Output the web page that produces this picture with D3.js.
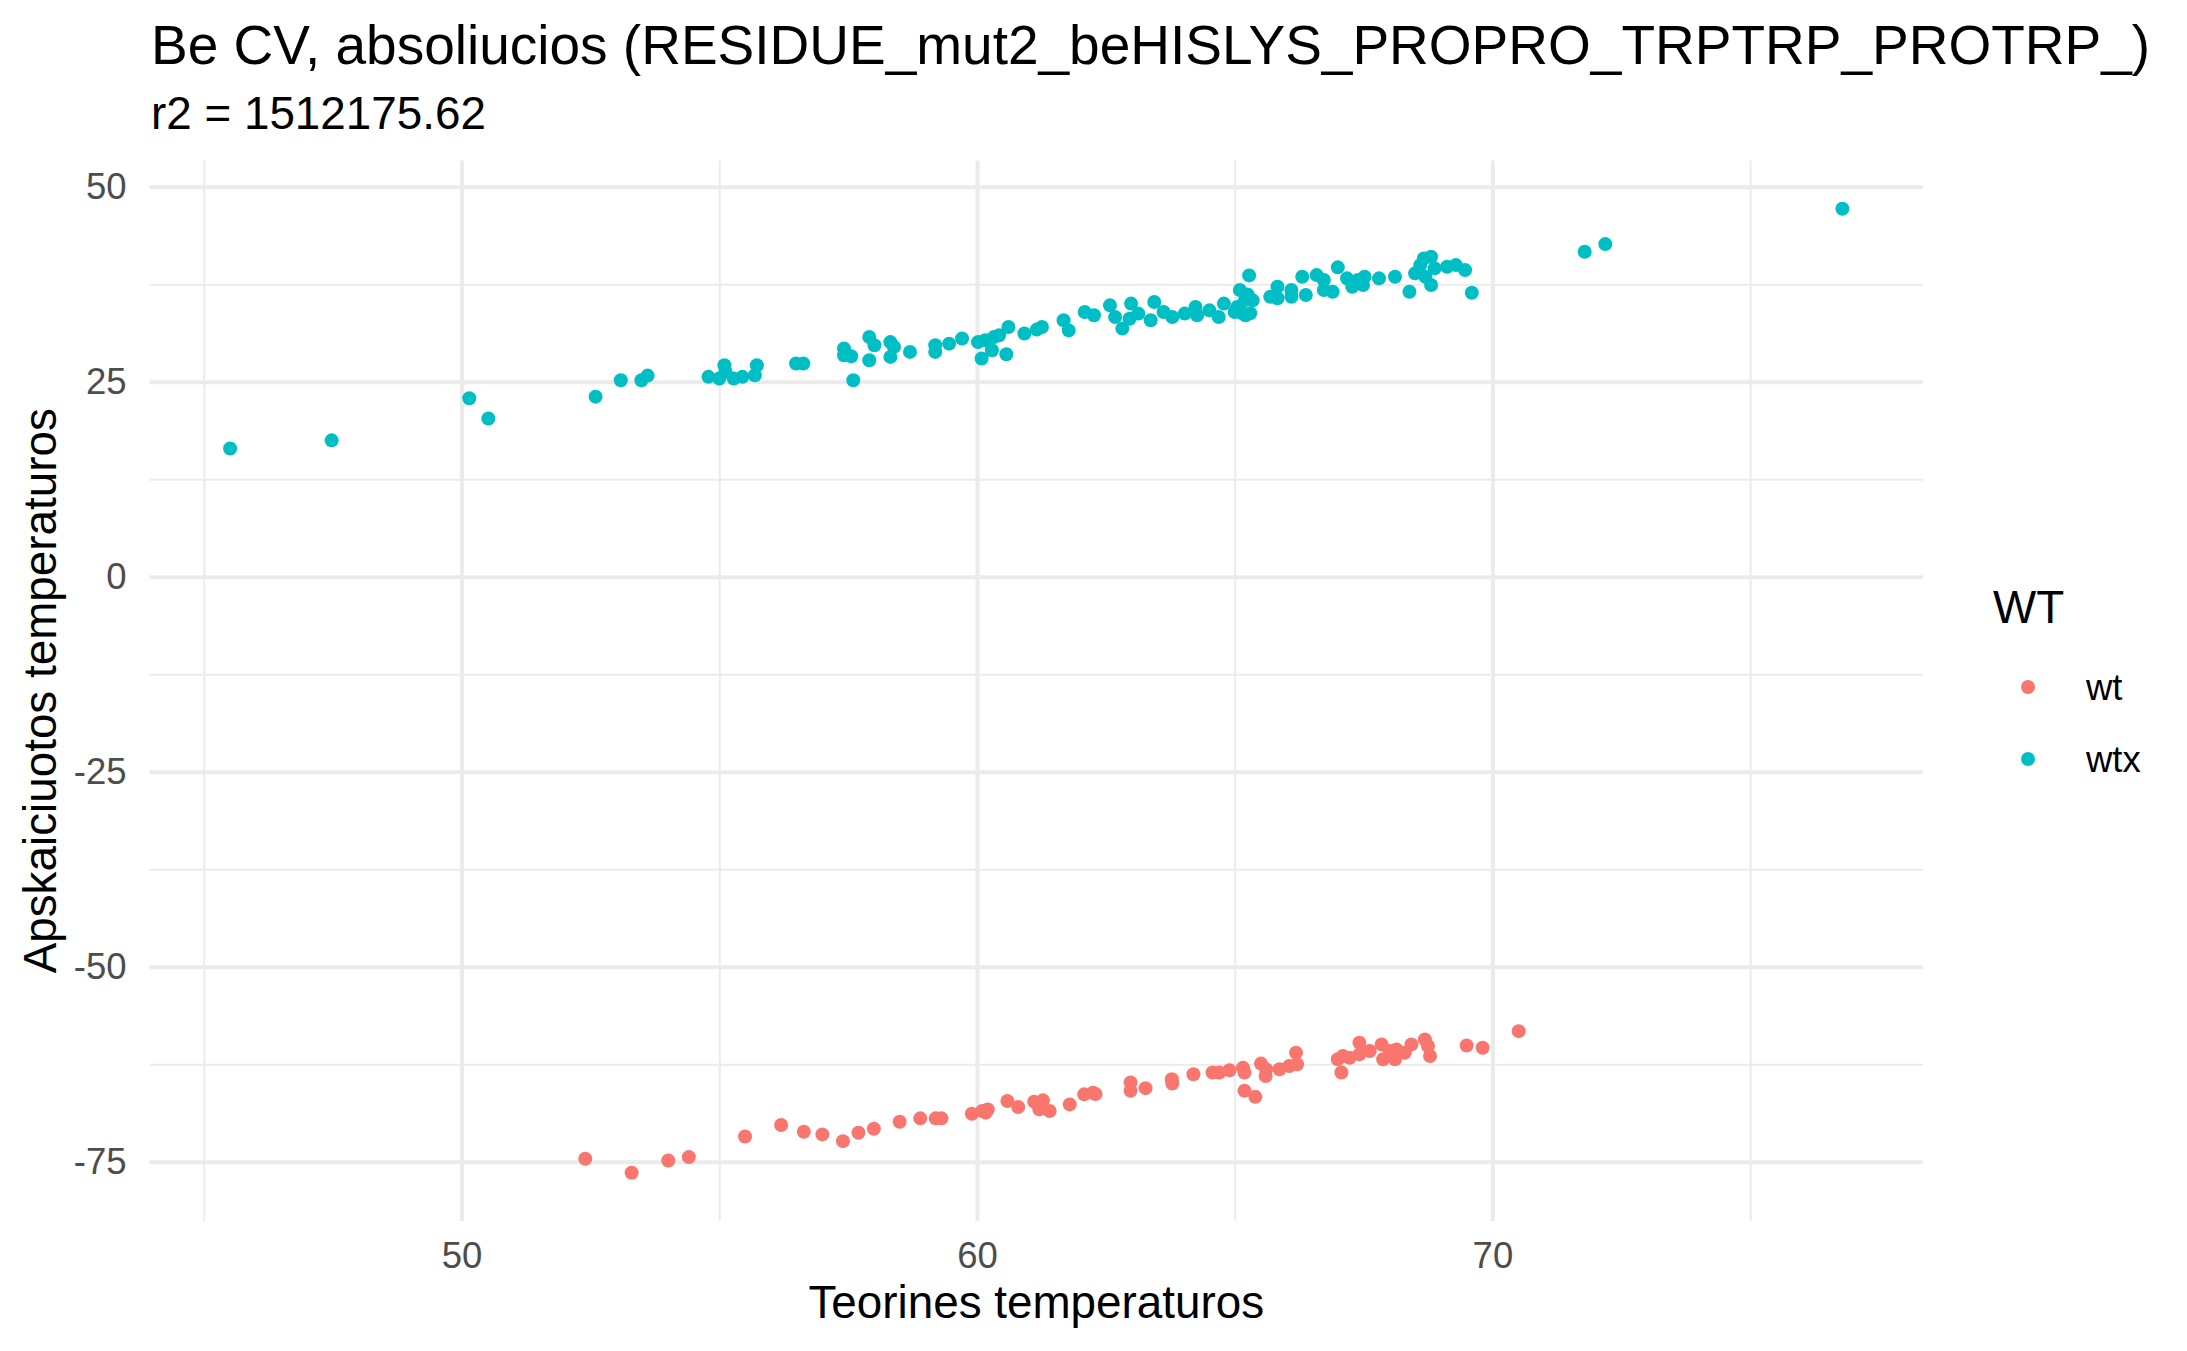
<!DOCTYPE html>
<html>
<head>
<meta charset="utf-8">
<script src="https://d3js.org/d3.v7.min.js"></script>
<style>
  body { margin: 0; background: #fff; }
  text { font-family: "Liberation Sans", Arial, sans-serif; }
  .grid .domain { stroke: none; }
  .grid line { stroke: #ebebeb; }
  .grid text { fill: #4d4d4d; font-size: 36.5px; }
</style>
</head>
<body>
<svg id="chart" width="2187" height="1351"></svg>
<script>

// series: [teorine, apskaiciuota]
const wtPoints = [
  [52.40,-74.61],[53.30,-76.41],[54.01,-74.83],[54.41,-74.40],[55.50,-71.75],
  [56.20,-70.29],[56.64,-71.15],[57.00,-71.49],[57.40,-72.35],[57.70,-71.28],
  [58.00,-70.76],[58.50,-69.86],[58.90,-69.43],[59.20,-69.43],[59.31,-69.43],
  [59.90,-68.84],[60.10,-68.49],[60.21,-68.28],[60.17,-68.70],[60.59,-67.21],
  [60.80,-67.98],[61.11,-67.29],[61.28,-67.12],[61.21,-68.28],[61.41,-68.49],
  [61.80,-67.64],[62.08,-66.35],[62.25,-66.14],[62.30,-66.30],[62.98,-64.84],
  [62.98,-65.90],[63.27,-65.56],[63.78,-64.41],[63.79,-64.97],[64.20,-63.78],
  [64.57,-63.56],[64.70,-63.56],[64.90,-63.27],[65.16,-62.93],[65.19,-63.56],
  [65.19,-65.90],[65.40,-66.67],[65.51,-62.41],[65.61,-63.14],[65.60,-64.00],
  [65.87,-63.14],[66.06,-62.71],[66.19,-61.01],[66.21,-62.50],[67.00,-61.86],
  [67.10,-61.44],[67.07,-63.56],[67.23,-61.65],[67.42,-59.74],[67.42,-61.23],
  [67.62,-60.80],[67.85,-59.95],[67.88,-61.86],[68.01,-60.80],[68.11,-61.86],
  [68.14,-60.59],[68.30,-61.01],[68.43,-59.95],[68.69,-59.31],[68.75,-60.16],
  [68.79,-61.44],[69.50,-60.08],[69.81,-60.37],[70.51,-58.25]
];

const wtxPoints = [
  [45.51,16.45],[47.48,17.50],[50.15,22.90],[50.52,20.30],[52.60,23.10],
  [53.09,25.20],[53.49,25.20],[53.61,25.80],[54.79,25.64],[55.00,25.43],
  [55.10,27.13],[55.28,25.43],[55.45,25.64],[55.69,25.85],[55.73,27.13],
  [55.12,26.30],[56.49,27.35],[56.63,27.35],[57.42,28.41],[57.56,28.28],
  [57.42,29.27],[57.60,25.21],[57.91,30.76],[58.01,29.70],[57.91,27.77],
  [58.32,30.10],[58.39,29.48],[58.32,28.20],[58.70,28.84],[59.19,29.70],
  [59.19,28.84],[59.46,29.90],[59.71,30.55],[60.02,30.10],[60.16,30.33],
  [60.33,30.76],[60.43,30.97],[60.61,32.04],[60.09,27.99],[60.29,29.05],
  [60.57,28.54],[60.92,31.19],[61.16,31.70],[61.26,32.04],[61.68,32.89],
  [61.78,31.60],[62.09,33.96],[62.27,33.53],[62.58,34.81],[62.68,33.32],
  [62.82,31.83],[62.99,35.03],[63.13,33.75],[63.37,32.89],[62.96,33.10],
  [63.44,35.24],[63.62,33.96],[63.79,33.32],[64.03,33.75],[64.24,34.60],
  [64.27,33.53],[64.51,34.17],[64.69,33.32],[64.79,35.03],[65.00,33.96],
  [65.21,33.53],[65.28,38.65],[65.35,35.45],[65.10,36.77],[65.20,35.50],
  [65.15,33.80],[65.30,33.80],[65.25,36.20],[65.05,34.60],[65.69,35.92],
  [65.83,37.20],[65.83,35.71],[66.10,35.92],[66.10,36.77],[66.38,36.13],
  [66.31,38.48],[66.59,38.69],[66.73,38.05],[66.73,36.77],[66.90,36.56],
  [67.00,39.68],[67.18,38.27],[67.28,37.20],[67.39,38.05],[67.52,38.48],
  [67.49,37.41],[67.80,38.27],[68.11,38.48],[68.39,36.56],[68.50,38.91],
  [68.60,39.97],[68.67,40.83],[68.81,41.04],[68.88,39.55],[68.81,37.41],
  [68.70,38.48],[69.12,39.76],[69.29,39.97],[69.47,39.33],[69.60,36.43],
  [71.79,41.68],[72.19,42.66],[76.79,47.20]
];

const groups = ["wt", "wtx"];
const groupColors = ["#F8766D", "#00BFC4"];

const xMajor = [50, 60, 70];
const xMinor = [45, 55, 65, 75];
const yMajor = [-75, -50, -25, 0, 25, 50];
const yMinor = [-62.5, -37.5, -12.5, 12.5, 37.5];

const titleText = "Be CV, absoliucios (RESIDUE_mut2_beHISLYS_PROPRO_TRPTRP_PROTRP_)";
const subtitleText = "r2 = 1512175.62";
const xTitle = "Teorines temperaturos";
const yTitle = "Apskaiciuotos temperaturos";

let svg = d3.select("svg#chart");

const panel = { left: 149.5, right: 1923, top: 160.5, bottom: 1221 };

// ggplot style 5% expansion
function expand(ext) {
  const pad = (ext[1] - ext[0]) * 0.05;
  return [ext[0] - pad, ext[1] + pad];
}

const allPoints = wtPoints.concat(wtxPoints);
const xScale = d3.scaleLinear()
  .domain(expand(d3.extent(allPoints, d => d[0])))
  .range([panel.left, panel.right]);
const yScale = d3.scaleLinear()
  .domain(expand(d3.extent(allPoints, d => d[1])))
  .range([panel.bottom, panel.top]);

const panelH = panel.bottom - panel.top;
const panelW = panel.right - panel.left;

// minor grid
svg.append("g").attr("class", "grid")
  .attr("transform", `translate(0,${panel.bottom})`)
  .call(d3.axisBottom(xScale).tickValues(xMinor).tickSize(-panelH).tickFormat(""))
  .selectAll("line").attr("stroke-width", 2);
svg.append("g").attr("class", "grid")
  .attr("transform", `translate(${panel.left},0)`)
  .call(d3.axisLeft(yScale).tickValues(yMinor).tickSize(-panelW).tickFormat(""))
  .selectAll("line").attr("stroke-width", 2);

// major grid + tick labels (plain hyphen for negatives, like R)
let xAxisG = svg.append("g").attr("class", "grid")
  .attr("transform", `translate(0,${panel.bottom})`)
  .call(d3.axisBottom(xScale).tickValues(xMajor).tickSize(-panelH).tickPadding(21)
    .tickFormat(d => String(d)));
xAxisG.selectAll("line").attr("stroke-width", 4);

let yAxisG = svg.append("g").attr("class", "grid")
  .attr("transform", `translate(${panel.left},0)`)
  .call(d3.axisLeft(yScale).tickValues(yMajor).tickSize(-panelW).tickPadding(23)
    .tickFormat(d => String(d)));
yAxisG.selectAll("line").attr("stroke-width", 4);

svg.selectAll(".grid text").attr("font-family", null).attr("font-size", null);

// points
const series = [wtPoints, wtxPoints];
series.forEach((pts, i) => {
  svg.append("g").selectAll("circle")
    .data(pts)
    .join("circle")
    .attr("cx", d => xScale(d[0]))
    .attr("cy", d => yScale(d[1]))
    .attr("r", 7)
    .attr("fill", groupColors[i]);
});

// titles
svg.append("text")
  .attr("x", 151).attr("y", 64)
  .style("font-size", "55px").attr("fill", "#000")
  .text(titleText);
svg.append("text")
  .attr("x", 151).attr("y", 129)
  .style("font-size", "45.8px").attr("fill", "#000")
  .text(subtitleText);

svg.append("text")
  .attr("x", (panel.left + panel.right) / 2).attr("y", 1318)
  .attr("text-anchor", "middle")
  .style("font-size", "45.8px").attr("fill", "#000")
  .text(xTitle);

svg.append("text")
  .attr("transform", `translate(56,${(panel.top + panel.bottom) / 2}) rotate(-90)`)
  .attr("text-anchor", "middle")
  .style("font-size", "45.8px").attr("fill", "#000")
  .text(yTitle);

// legend
let legend = svg.append("g");
legend.append("text")
  .attr("x", 1993).attr("y", 623)
  .style("font-size", "45.8px").attr("fill", "#000")
  .text("WT");

const legendY = d3.scalePoint().domain(groups).range([687, 759]);
legend.selectAll("circle")
  .data(groups)
  .join("circle")
  .attr("cx", 2028)
  .attr("cy", d => legendY(d))
  .attr("r", 7)
  .attr("fill", (d, i) => groupColors[i]);
legend.selectAll("text.lab")
  .data(groups)
  .join("text")
  .attr("class", "lab")
  .attr("x", 2086)
  .attr("y", d => legendY(d) + 13)
  .style("font-size", "36.5px").attr("fill", "#000")
  .text(d => d);

</script>
</body>
</html>
